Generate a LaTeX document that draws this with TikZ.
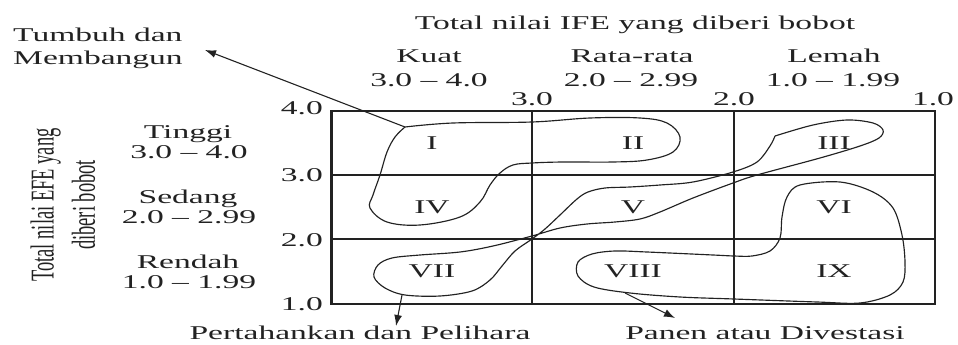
\documentclass[tikz,border=0pt]{standalone}
\usepackage{fontspec}
\setmainfont{Liberation Serif}[FakeStretch=1.72]
\newfontfamily\rotfont{Liberation Serif}
\usetikzlibrary{arrows.meta}
\definecolor{ink}{HTML}{222222}
\begin{document}
\begin{tikzpicture}[x=1pt,y=-1pt,
  txt/.style={font=\fontsize{19.5}{22}\selectfont, text=ink, inner sep=0pt},
  gridline/.style={draw=ink, line width=1.6pt},
  blob/.style={draw=ink, line width=1.15pt},
  ptr/.style={draw=ink, line width=1.1pt, -{Latex[length=11pt,width=8pt]}}]
\useasboundingbox (0,0) rectangle (958,345);

% grid
\draw[gridline] (332,111) rectangle (935,304);
\draw[draw=ink, line width=2.8pt] (331,110.2) -- (331,304.8);
\draw[gridline] (532,111) -- (532,304);
\draw[gridline] (734,111) -- (734,304);
\draw[gridline] (332,175) -- (935,175);
\draw[gridline] (332,239) -- (935,239);

% cell labels
\node[txt] (c1) at (432,143) {I};
\node[txt] (c2) at (633,143) {II};
\node[txt] (c3) at (834,143) {III};
\node[txt] (c4) at (432,207) {IV};
\node[txt] (c5) at (633,207) {V};
\node[txt] (c6) at (834,207) {VI};
\node[txt] (c7) at (432,271) {VII};
\node[txt] (c8) at (633,271) {VIII};
\node[txt] (c9) at (834,271) {IX};

% header texts
\node[txt, anchor=base] (ife) at (635,30) {Total nilai IFE yang diberi bobot};
\node[txt, anchor=base] (kuat) at (429,63) {Kuat};
\node[txt, anchor=base] (kuatr) at (429,86) {3.0 -- 4.0};
\node[txt, anchor=base] (rata) at (632,63) {Rata-rata};
\node[txt, anchor=base] (ratar) at (631,86) {2.0 -- 2.99};
\node[txt, anchor=base] (lemah) at (834,63) {Lemah};
\node[txt, anchor=base] (lemahr) at (833,86) {1.0 -- 1.99};
\node[txt, anchor=base] (x3) at (532,105) {3.0};
\node[txt, anchor=base] (x2) at (734,105) {2.0};
\node[txt, anchor=base] (x1) at (933,105) {1.0};

% row tick labels
\node[txt, anchor=east] (y4) at (323,108) {4.0};
\node[txt, anchor=east] (y3) at (323,175) {3.0};
\node[txt, anchor=east] (y2) at (323,240) {2.0};
\node[txt, anchor=east] (y1) at (323,304) {1.0};

% row labels
\node[txt, anchor=base] (ting) at (188,138) {Tinggi};
\node[txt, anchor=base] (tingr) at (189,158) {3.0 -- 4.0};
\node[txt, anchor=base] (sed) at (188,203) {Sedang};
\node[txt, anchor=base] (sedr) at (189,223) {2.0 -- 2.99};
\node[txt, anchor=base] (ren) at (188,268) {Rendah};
\node[txt, anchor=base] (renr) at (189,288) {1.0 -- 1.99};

% rotated axis label
\node[inner sep=0pt, text=ink, rotate=90] (efe) at (66,205)
  {\scalebox{1}[1.8]{\rotfont\fontsize{18.5}{23}\selectfont
   \begin{tabular}{@{}c@{}}Total nilai EFE yang\\diberi bobot\end{tabular}}};

% strategy labels
\node[txt, anchor=base west] (tb1) at (13,42) {Tumbuh dan};
\node[txt, anchor=base west] (tb2) at (13,64) {Membangun};
\node[txt, anchor=base] (ph) at (360,339) {Pertahankan dan Pelihara};
\node[txt, anchor=base] (pd) at (765,339) {Panen atau Divestasi};

% blob I-II-IV
\draw[blob] plot[smooth, tension=0.6] coordinates {(405,127) (453,123) (532,122)
  (590,118) (640,118) (667,123) (680,137) (673,152) (647,160) (613,162) (563,162)
  (532,163) (513,165) (500,173) (490,185) (480,202) (460,217) (420,225) (387,222)
  (370,208) (373,195) (380,175) (387,152) (395,137) (405,127)};

% blob III-V-VII (twisted band)
\draw[blob] plot[smooth, tension=0.55] coordinates {(775,136) (770,146) (757,162)
  (733,172) (693,182) (660,185) (630,187) (605,188) (588,192) (577,199) (560,215)
  (545,229) (532,239) (515,251) (502,266) (490,280) (472,291) (440,296) (405,295)
  (385,288) (374,277) (378,265) (392,258) (420,255) (460,252) (493,246) (532,236)
  (560,228) (587,224) (615,222) (640,219) (660,212) (693,198) (733,183) (757,175)
  (820,158) (860,146) (879,138) (883,130) (873,123) (847,120) (813,125) (775,136)};

% blob VI-VIII-IX
\draw[blob] plot[smooth cycle, tension=0.55] coordinates {(800,185) (840,182) (873,192)
  (893,208) (902,235) (905,262) (903,282) (890,295) (860,303) (817,302) (734,299)
  (680,297) (630,293) (594,287) (578,276) (578,262) (592,254) (615,251) (647,252)
  (713,255) (734,256) (752,256) (770,251) (780,238) (782,217) (787,197)};

% arrows
\coordinate (sA) at (405,127);
\coordinate (tA) at (205,50);
\coordinate (sB) at (402,295);
\coordinate (tB) at (396,326);
\coordinate (sC) at (625,293);
\coordinate (tC) at (675,318);
\draw[ptr] (sA) -- (tA);
\draw[ptr] (sB) -- (tB);
\draw[ptr] (sC) -- (tC);
\end{tikzpicture}
\end{document}
